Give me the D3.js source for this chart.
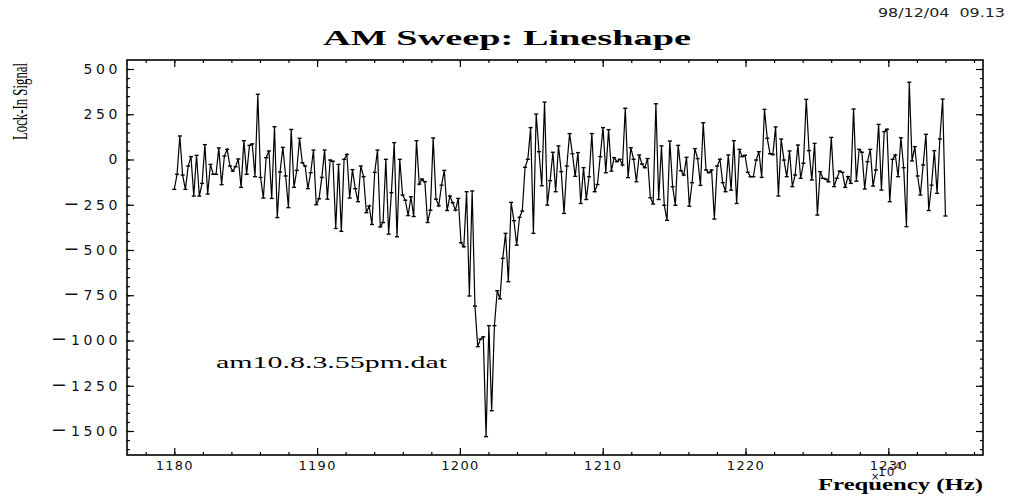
<!DOCTYPE html>
<html>
<head>
<meta charset="utf-8">
<script src="https://cdn.jsdelivr.net/npm/d3@7"></script>
<style>
  body { margin: 0; background: #fff; }
  .xlab { font-family: "DejaVu Sans", sans-serif; font-size: 13px; letter-spacing: 1.3px; fill: #111; }
  .ylab { font-family: "DejaVu Sans", sans-serif; font-size: 14px; letter-spacing: 3.6px; fill: #111; }
</style>
</head>
<body>
<svg id="chart" width="1011" height="498"></svg>
<script>

// frequency sweep, x10^4 Hz
var freqStart = 1180;
var freqEnd = 1234;

// lock-in signal, left to right
var signal = [
  -165, -82, 130, -86, -165, -36, 16, -202, 23, -202, -132, 82, -191, -27, -82, -82, 64, -139, 19, 56,
  -36, -64, -40, 3, -154, 104, -82, 78, 86, -95, 360, -99, -213, 10, 47,
  -215, 181, -321, -69, 67, -91, -266, 166, -154, -60, 117, -18, -36, -161, -73, 52, -250, -217, -99, 52,
  -219, -3, -10, -381, -27, -397, 1, 28, -213, -56, -161, -233, -36, -95,
  -294, -257, -359, -71, 52, -372, -348, 1, -412, -183, 93, -427, 1, -196, -225, -310, -206, -315, 104, -136,
  -108, -123, -348, -280, 119, -219, -256, -142, -60, -282, -202, -239, -280, -215,
  -460, -482, -178, -754, -174, -810, -1034, -992, -980, -1531, -918, -1388, -918, -725, -770, -546, -408, -675, -237, -338,
  -473, -320, -285, -43, 1, 176, -408,
  251, 43, -145, 317, -252, -117, 40, -178, 75, -67, -298, -36, 143, 32, -93, 38, -243, -45, -221, -95,
  143, -178, -138, 16, 176, -73, 165, -64, 10, -12, 1, -30, 283,
  -100, 65, 1, -123, 25, -25, -45, 5, -211, -246, 308, -221, 75, -253, -336, 102, -150, -253, 78, -62,
  -86, 12, -258, -128, 60, 5, -143, 203, -58, -73, -58, -329, -36, 1,
  -128, -178, 25, -169, 104, -243, 56, 16, 23, -71, -95, -95, -3, 43, -99, 277, 117, 32, 27, 180,
  -202, 113, -3, -95, 47, -150, -86, 80, -104, -21, 332, 49, -113, 89,
  -307, -67, -104, -108, -123, 122, -150, -104, -64, -71, -154, -95, -132, 279, -120, 56, 40, -163, -12, 56,
  -147, -58, 194, -169, 154, 167, -233, 1, 25, -95, 120, -45, -371, 427, -8, 71, -91, -196, -30, 139,
  -282, -142, 49, -187, 113, 334, -312
];

var xMajorTicks = [1180, 1190, 1200, 1210, 1220, 1230];
var yMajorTicks = [500, 250, 0, -250, -500, -750, -1000, -1250, -1500];

var svg = d3.select("#chart");

var frame = {left: 127, top: 60, right: 983, bottom: 455};

var x = d3.scaleLinear()
  .domain([1176.69, 1236.63])
  .range([frame.left, frame.right]);

var y = d3.scaleLinear()
  .domain([-1632.6, 549.7])
  .range([frame.bottom, frame.top]);

var step = (freqEnd - freqStart) / (signal.length - 1);
var points = signal.map(function (v, i) {
  return {f: freqStart + i * step, v: v};
});

var xMinor = d3.range(1178, 1237, 2);
var yMinor = d3.range(-1600, 550, 50);

// minor ticks on all four sides, pointing in
svg.append("g")
  .attr("transform", "translate(0," + frame.bottom + ")")
  .call(d3.axisBottom(x).tickValues(xMinor).tickSize(-3).tickFormat(""));
svg.append("g")
  .attr("transform", "translate(0," + frame.top + ")")
  .call(d3.axisTop(x).tickValues(xMinor).tickSize(-3).tickFormat(""));
svg.append("g")
  .attr("transform", "translate(" + frame.left + ",0)")
  .call(d3.axisLeft(y).tickValues(yMinor).tickSize(-3).tickFormat(""));
svg.append("g")
  .attr("transform", "translate(" + frame.right + ",0)")
  .call(d3.axisRight(y).tickValues(yMinor).tickSize(-3).tickFormat(""));

// major ticks
var xAxis = svg.append("g")
  .attr("transform", "translate(0," + frame.bottom + ")")
  .call(d3.axisBottom(x).tickValues(xMajorTicks).tickSize(-7).tickPadding(6).tickFormat(d3.format("d")));
svg.append("g")
  .attr("transform", "translate(0," + frame.top + ")")
  .call(d3.axisTop(x).tickValues(xMajorTicks).tickSize(-7).tickFormat(""));
var yAxis = svg.append("g")
  .attr("transform", "translate(" + frame.left + ",0)")
  .call(d3.axisLeft(y).tickValues(yMajorTicks).tickSize(-7).tickPadding(6).tickFormat(""));
svg.append("g")
  .attr("transform", "translate(" + frame.right + ",0)")
  .call(d3.axisRight(y).tickValues(yMajorTicks).tickSize(-7).tickFormat(""));

svg.selectAll(".domain").remove();
svg.selectAll(".tick line").attr("stroke", "#000").attr("stroke-width", 1.2);

xAxis.attr("font-family", null).attr("font-size", null);
yAxis.attr("font-family", null).attr("font-size", null);

xAxis.selectAll(".tick text").attr("class", "xlab");

// y labels: the minus is drawn long, like the original plotter font
yAxis.selectAll(".tick text")
  .attr("class", "ylab")
  .each(function (d) {
    var t = d3.select(this);
    if (d < 0) {
      t.append("tspan").style("font-size", "19px").style("letter-spacing", "4px").text("\u2212");
    }
    t.append("tspan").text(Math.abs(d));
  });

svg.append("rect")
  .attr("x", frame.left)
  .attr("y", frame.top)
  .attr("width", frame.right - frame.left)
  .attr("height", frame.bottom - frame.top)
  .attr("fill", "none")
  .attr("stroke", "#000")
  .attr("stroke-width", 1.6);

// the trace
var line = d3.line()
  .x(function (d) { return x(d.f); })
  .y(function (d) { return y(d.v); });

svg.append("path")
  .datum(points)
  .attr("d", line)
  .attr("fill", "none")
  .attr("stroke", "#000")
  .attr("stroke-width", 1.2)
  .attr("stroke-linejoin", "miter");

svg.append("g")
  .selectAll("line")
  .data(points)
  .enter().append("line")
  .attr("x1", function (d) { return x(d.f) - 2; })
  .attr("x2", function (d) { return x(d.f) + 2; })
  .attr("y1", function (d) { return y(d.v); })
  .attr("y2", function (d) { return y(d.v); })
  .attr("stroke", "#000")
  .attr("stroke-width", 1.4);

// texts
svg.append("text")
  .attr("x", 323).attr("y", 45)
  .attr("textLength", 368).attr("lengthAdjust", "spacingAndGlyphs")
  .style("font-family", "'Liberation Serif', serif")
  .style("font-weight", "bold")
  .style("font-size", "21px")
  .text("AM Sweep: Lineshape");

svg.append("text")
  .attr("x", 878).attr("y", 17)
  .attr("textLength", 127).attr("lengthAdjust", "spacingAndGlyphs")
  .style("font-family", "'DejaVu Sans', sans-serif")
  .style("font-size", "12px")
  .style("white-space", "pre")
  .style("fill", "#222")
  .text("98/12/04  09.13");

svg.append("text")
  .attr("transform", "translate(27,140) rotate(-90)")
  .attr("textLength", 77).attr("lengthAdjust", "spacingAndGlyphs")
  .style("font-family", "'Liberation Serif', serif")
  .style("font-size", "22px")
  .text("Lock-In Signal");

svg.append("text")
  .attr("x", 216).attr("y", 368)
  .attr("textLength", 231).attr("lengthAdjust", "spacingAndGlyphs")
  .style("font-family", "'Liberation Serif', serif")
  .style("font-size", "17px")
  .text("am10.8.3.55pm.dat");

svg.append("text")
  .attr("x", 983).attr("y", 490)
  .attr("text-anchor", "end")
  .attr("textLength", 165).attr("lengthAdjust", "spacingAndGlyphs")
  .style("font-family", "'Liberation Serif', serif")
  .style("font-weight", "bold")
  .style("font-size", "16px")
  .text("Frequency (Hz)");

// exponent marker, sits over the axis title as in the original
svg.append("text")
  .attr("x", 871).attr("y", 480)
  .style("font-family", "'DejaVu Sans', sans-serif")
  .style("font-size", "10px")
  .style("fill", "#111")
  .text("\u00d7");
var mult = svg.append("text")
  .attr("x", 878).attr("y", 476)
  .style("font-family", "'DejaVu Sans', sans-serif")
  .style("font-size", "12px")
  .style("letter-spacing", "1px")
  .style("fill", "#111");
mult.append("tspan").text("10");
mult.append("tspan").attr("dy", -7).style("font-size", "9px").text("4");

</script>
</body>
</html>
